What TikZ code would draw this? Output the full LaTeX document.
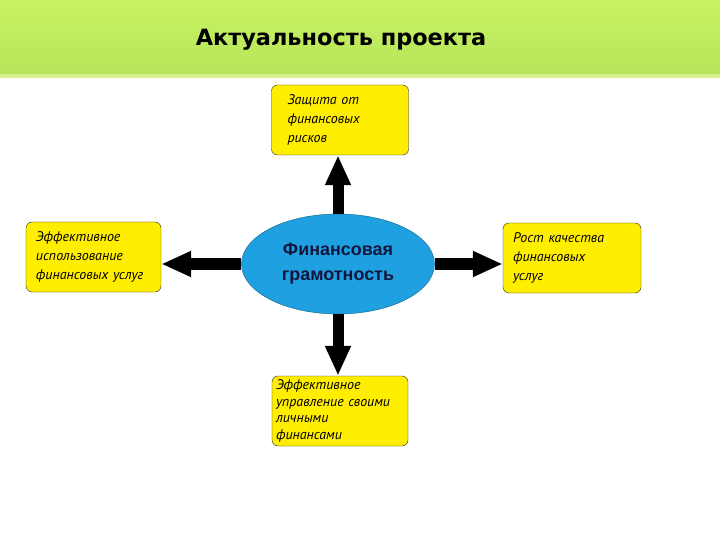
\documentclass[tikz,border=0pt]{standalone}
\usepackage{fontspec}
\setmainfont{PT Sans}
\newfontfamily\headfont{DejaVu Sans}
\newfontfamily\hubfont{Liberation Sans}
\usetikzlibrary{shapes.geometric,arrows.meta}
\definecolor{headtop}{RGB}{200,242,98}
\definecolor{headbot}{RGB}{182,228,90}
\definecolor{headline}{RGB}{214,240,140}
\definecolor{boxyellow}{RGB}{255,238,0}
\definecolor{hubblue}{RGB}{30,160,225}
\definecolor{navytext}{RGB}{20,22,60}
\begin{document}
\begin{tikzpicture}[x=1bp,y=-1bp, line join=round,
	box/.style={draw=black!85, fill=boxyellow, rounded corners=6bp, minimum height=70bp, inner ysep=0pt, align=left, font=\fontsize{14}{19}\selectfont\itshape},
	hub/.style={ellipse, draw=hubblue!60!black, fill=hubblue, minimum width=193bp, minimum height=100bp, inner sep=0pt, align=center, text=navytext, font=\hubfont\fontsize{18}{25}\selectfont\bfseries},
	arr/.style={line width=11bp, -{Triangle[length=30bp,width=24bp]}}]
	\useasboundingbox (0,0) rectangle (720,540);
	% header band
	\shade[top color=headtop, bottom color=headbot] (0,0) rectangle (720,74);
	\fill[headline] (0,74) rectangle (720,78);
	\node[font=\headfont\fontsize{22.5}{27}\selectfont\bfseries] (title) at (341,40) {Актуальность проекта};
	% centre and boxes
	\node[hub] (fin) at (338,264) {Финансовая\\грамотность};
	\node[box, text width=105bp, inner xsep=16bp] (risk) at (340,120) {Защита от\\финансовых\\рисков};
	\node[box, text width=115bp, inner xsep=10bp] (use) at (93.5,257) {Эффективное\\использование\\финансовых услуг};
	\node[box, text width=118bp, inner xsep=10bp] (qual) at (572,258) {Рост качества\\финансовых\\услуг};
	\node[box, text width=128bp, inner xsep=4bp, font=\fontsize{14}{16.5}\selectfont\itshape] (own) at (340,411) {Эффективное\\управление своими\\личными\\финансами};
	% arrows
	\draw[arr] (fin.north) -- (fin.north |- risk.south);
	\draw[arr] (fin.south) -- (fin.south |- own.north);
	\draw[arr] (fin.west) -- (fin.west -| use.east);
	\draw[arr] (fin.east) -- (fin.east -| qual.west);
\end{tikzpicture}
\end{document}
